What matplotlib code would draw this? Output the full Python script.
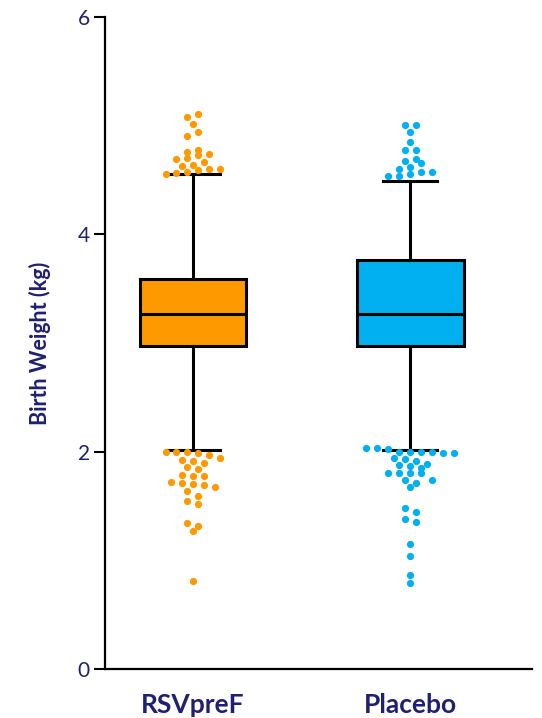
import numpy as np
import matplotlib
matplotlib.use("Agg")
import matplotlib.pyplot as plt

# ---- data (kg) ----
groups = ["RSVpreF", "Placebo"]
q1 = [2.97, 2.97]
medians = [3.27, 3.27]
q3 = [3.59, 3.76]
whisker_low = [2.02, 2.02]
whisker_high = [4.555, 4.49]

rsv_high = [5.081, 5.106, 5.020, 4.906, 4.940, 4.740, 4.731, 4.772, 4.759, 4.667,
            4.701, 4.689, 4.639, 4.625, 4.572, 4.591, 4.554, 4.566, 4.597, 4.597]
rsv_low = [1.994, 1.938, 1.969, 1.994, 1.984, 1.994, 1.911, 1.926, 1.892, 1.843,
           1.856, 1.776, 1.778, 1.788, 1.693, 1.718, 1.705, 1.714, 1.674, 1.635,
           1.589, 1.543, 1.518, 1.340, 1.313, 1.270, 0.812]
pla_high = [5.002, 5.002, 4.940, 4.851, 4.772, 4.772, 4.689, 4.658, 4.671, 4.621,
            4.606, 4.575, 4.575, 4.557, 4.538, 4.538]
pla_low = [2.030, 2.030, 1.999, 1.999, 1.999, 1.987, 1.996, 1.984, 2.024, 1.941,
           1.914, 1.929, 1.886, 1.868, 1.849, 1.880, 1.800, 1.800, 1.800, 1.800,
           1.742, 1.711, 1.736, 1.672, 1.484, 1.442, 1.352, 1.383, 1.147, 1.037,
           0.865, 0.794]

colors = ["#FF9900", "#00B0F0"]
navy = "#1F1F73"

plt.rcParams['font.family'] = ['Lato', 'DejaVu Sans']

fig = plt.figure(figsize=(5.42, 7.18), dpi=100)
ax = fig.add_axes([0.1937, 0.0682, 0.7878, 0.9081])

positions = [0, 1]
stats = []
for i in range(2):
    stats.append(dict(med=medians[i], q1=q1[i], q3=q3[i],
                      whislo=whisker_low[i], whishi=whisker_high[i],
                      fliers=[], label=groups[i]))

bp = ax.bxp(stats, positions=positions, widths=0.49, patch_artist=True,
            showfliers=False,
            boxprops=dict(linewidth=2.2, edgecolor='black'),
            medianprops=dict(color='black', linewidth=2.2),
            whiskerprops=dict(color='black', linewidth=2.2),
            capprops=dict(color='black', linewidth=2.2),
            capwidths=0.25)
for patch, c in zip(bp['boxes'], colors):
    patch.set_facecolor(c)


def swarm(vals, center, upward, h=0.06, s=0.0506):
    v = np.sort(np.asarray(vals, float))
    if not upward:
        v = v[::-1]
    rows = []
    for val in v:
        if rows and abs(val - rows[-1][0]) < h:
            rows[-1].append(val)
        else:
            rows.append([val])
    xs, ys = [], []
    for row in rows:
        n = len(row)
        offs = (np.arange(n) - (n - 1) / 2.0) * s
        xs.extend(center + offs)
        ys.extend(row)
    return np.array(xs), np.array(ys)


for i, (hi, lo) in enumerate([(rsv_high, rsv_low), (pla_high, pla_low)]):
    for vals, up in ((hi, True), (lo, False)):
        x, y = swarm(vals, positions[i], up)
        ax.plot(x, y, 'o', color=colors[i], markersize=5.2,
                markeredgewidth=0, zorder=5)

ax.set_xlim(-0.405, 1.56)
ax.set_ylim(0, 6)
ax.set_yticks([0, 2, 4, 6])
ax.set_xticks(positions)
ax.set_xticklabels(groups, fontsize=19, fontweight='bold', color=navy)
ax.tick_params(axis='x', length=0, pad=17)
ax.tick_params(axis='y', length=8, width=1.5, labelsize=15, labelcolor=navy,
               pad=3)
ax.set_ylabel("Birth Weight (kg)", fontsize=15.5, fontweight='bold', color=navy,
              labelpad=19)
for sp in ['top', 'right']:
    ax.spines[sp].set_visible(False)
for sp in ['left', 'bottom']:
    ax.spines[sp].set_linewidth(1.6)

fig.savefig("out.png", dpi=100)
